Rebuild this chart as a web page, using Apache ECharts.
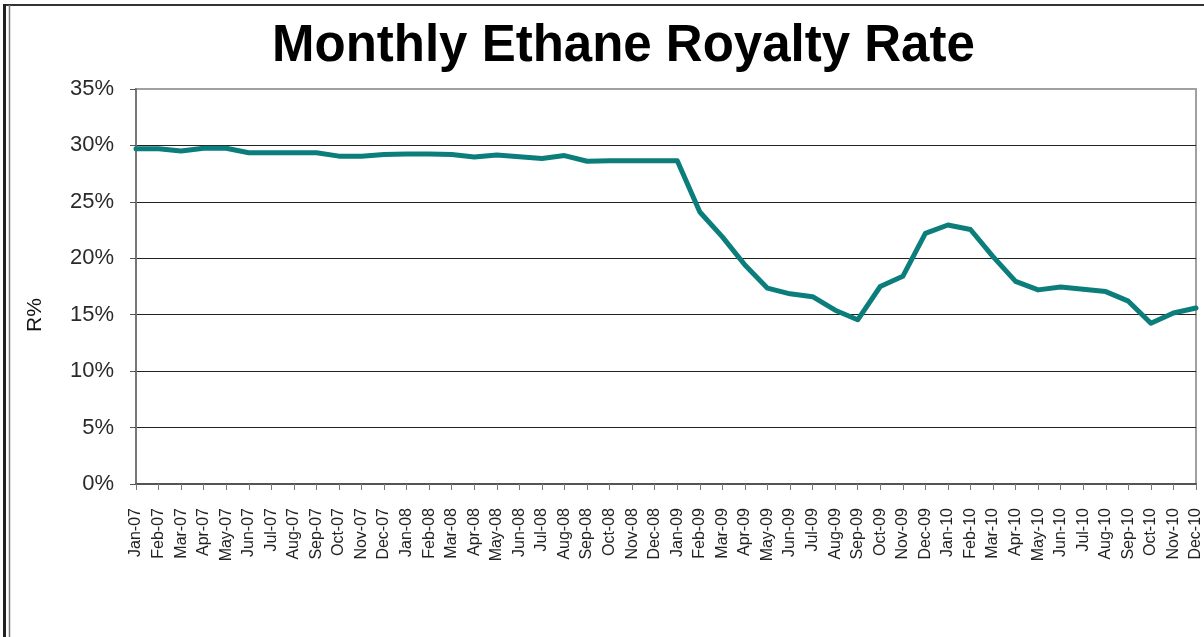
<!DOCTYPE html>
<html>
<head>
<meta charset="utf-8">
<title>Monthly Ethane Royalty Rate</title>
<script src="https://cdn.jsdelivr.net/npm/echarts@6/dist/echarts.min.js"></script>
<style>
    html, body { margin: 0; padding: 0; background: #fff; }
    #main { width: 1204px; height: 637px; }
</style>
</head>
<body>
<div id="main"></div>
<script>
    //月份
    let months = [
        'Jan-07', 'Feb-07', 'Mar-07', 'Apr-07', 'May-07', 'Jun-07', 'Jul-07', 'Aug-07', 'Sep-07', 'Oct-07', 'Nov-07', 'Dec-07',
        'Jan-08', 'Feb-08', 'Mar-08', 'Apr-08', 'May-08', 'Jun-08', 'Jul-08', 'Aug-08', 'Sep-08', 'Oct-08', 'Nov-08', 'Dec-08',
        'Jan-09', 'Feb-09', 'Mar-09', 'Apr-09', 'May-09', 'Jun-09', 'Jul-09', 'Aug-09', 'Sep-09', 'Oct-09', 'Nov-09', 'Dec-09',
        'Jan-10', 'Feb-10', 'Mar-10', 'Apr-10', 'May-10', 'Jun-10', 'Jul-10', 'Aug-10', 'Sep-10', 'Oct-10', 'Nov-10', 'Dec-10'
    ];

    //乙烷特许费率 (%)
    let royaltyRate = [
        29.7, 29.7, 29.5, 29.75, 29.75, 29.35, 29.35, 29.35, 29.35, 29.05, 29.05, 29.2,
        29.25, 29.25, 29.2, 28.97, 29.15, 29.0, 28.85, 29.1, 28.6, 28.65, 28.65, 28.65,
        28.65, 24.1, 21.9, 19.4, 17.35, 16.85, 16.6, 15.4, 14.55, 17.5, 18.4, 22.2,
        22.95, 22.55, 20.15, 17.95, 17.2, 17.45, 17.25, 17.05, 16.2, 14.25, 15.15, 15.6
    ];

    //y轴刻度
    let yTicks = [0, 5, 10, 15, 20, 25, 30, 35];

    let chart = echarts.init(document.getElementById('main'), null, { renderer: 'canvas' });

    let options = {
        animation: false,
        backgroundColor: '#fff',
        title: {
            text: 'Monthly Ethane Royalty Rate',
            left: 272,
            top: 21,
            padding: 0,
            textStyle: {
                color: '#000',
                fontFamily: 'Liberation Sans',
                fontWeight: 'bold',
                fontSize: 51
            }
        },
        grid: {
            left: 136,
            top: 89,
            right: 7,
            bottom: 153,
            show: true,
            borderColor: '#a0a0a0',
            borderWidth: 2
        },
        xAxis: {
            type: 'category',
            boundaryGap: false,
            data: months,
            axisLine: {
                show: true,
                lineStyle: { color: '#555', width: 2 }
            },
            axisTick: {
                show: true,
                interval: 0,
                length: 6,
                lineStyle: { color: '#777', width: 1 }
            },
            axisLabel: {
                interval: 0,
                rotate: 90,
                margin: 24,
                color: '#222',
                fontFamily: 'Liberation Sans',
                fontSize: 16
            },
            splitLine: { show: false }
        },
        yAxis: {
            type: 'value',
            min: yTicks[0],
            max: yTicks[yTicks.length - 1],
            interval: 5,
            axisLine: {
                show: true,
                lineStyle: { color: '#777', width: 2 }
            },
            axisTick: {
                show: true,
                length: 6,
                lineStyle: { color: '#555', width: 1 }
            },
            axisLabel: {
                margin: 22,
                color: '#2a2a2a',
                fontFamily: 'Liberation Sans',
                fontSize: 22,
                formatter: '{value}%'
            },
            splitLine: {
                show: true,
                lineStyle: {
                    color: ['#555', '#222', '#222', '#222', '#222', '#222', '#222', '#a0a0a0'],
                    width: 1
                }
            }
        },
        series: [
            {
                type: 'line',
                name: 'Royalty Rate',
                data: royaltyRate,
                showSymbol: false,
                symbol: 'none',
                lineStyle: {
                    color: '#0b7e7c',
                    width: 5,
                    cap: 'round',
                    join: 'round'
                },
                z: 5
            }
        ],
        graphic: [
            //y轴名称
            {
                type: 'text',
                x: 35,
                y: 315,
                rotation: Math.PI / 2,
                style: {
                    text: 'R%',
                    fill: '#111',
                    font: '21px "Liberation Sans"',
                    align: 'center',
                    verticalAlign: 'middle'
                }
            },
            //外框
            {
                type: 'line',
                shape: { x1: 3, y1: 5, x2: 1204, y2: 5 },
                style: { stroke: '#333', lineWidth: 2 }
            },
            {
                type: 'line',
                shape: { x1: 4.5, y1: 4, x2: 4.5, y2: 637 },
                style: { stroke: '#222', lineWidth: 3 }
            },
            {
                type: 'line',
                shape: { x1: 9.5, y1: 5, x2: 9.5, y2: 637 },
                style: { stroke: '#777', lineWidth: 1.5 }
            }
        ]
    };

    chart.setOption(options);
</script>
</body>
</html>
